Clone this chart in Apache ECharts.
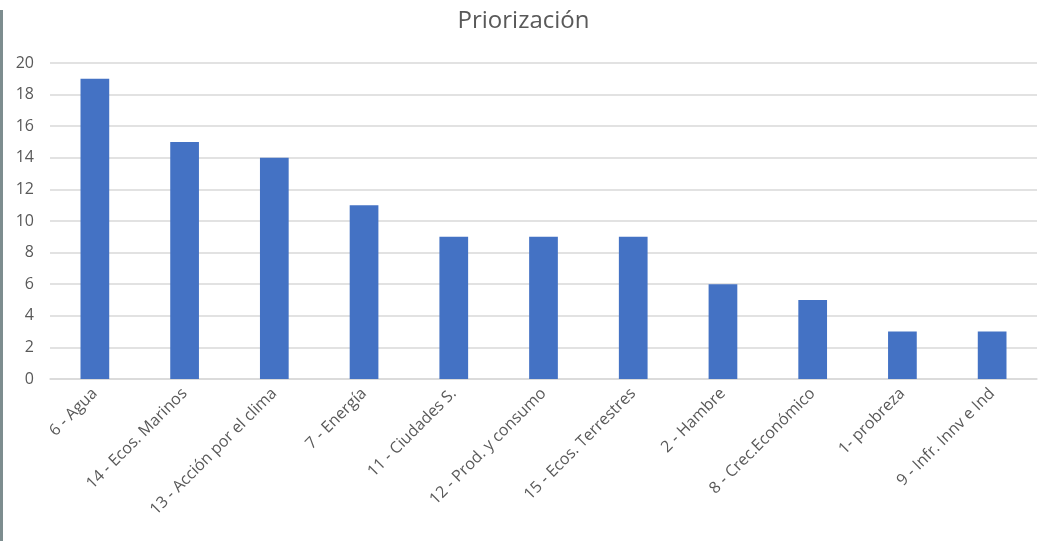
<!DOCTYPE html>
<html>
<head>
<meta charset="utf-8">
<script src="https://cdn.jsdelivr.net/npm/echarts@6/dist/echarts.min.js"></script>
<style>
  html, body { margin: 0; padding: 0; background: #fff; }
  #chart { width: 1047px; height: 541px; }
  #edge { position: absolute; left: 0; top: 10px; width: 3px; height: 531px; background: #7d8d8f; }
</style>
</head>
<body>
<div id="edge"></div>
<div id="chart"></div>
<script>
// Priorización - conteo por ODS
const CATEGORIES = [
  '6 - Agua', '14 - Ecos. Marinos', '13 - Acción por el clima', '7 - Energía',
  '11 - Ciudades S.', '12 - Prod. y consumo', '15 - Ecos. Terrestres',
  '2 - Hambre', '8 - Crec.Económico', '1- probreza', '9 - Infr. Innv e Ind'
];
const VALUES = [19, 15, 14, 11, 9, 9, 9, 6, 5, 3, 3];

const chart = echarts.init(document.getElementById('chart'));
chart.setOption({
  animation: false,
  title: {
    text: 'Priorización',
    left: 'center',
    top: 4,
    textStyle: { fontFamily: 'Open Sans', fontSize: 24, fontWeight: 'normal', color: '#595959' }
  },
  grid: { left: 50, right: 10, top: 63, bottom: 162 },
  xAxis: {
    type: 'category',
    data: CATEGORIES,
    axisLine: { lineStyle: { color: '#d9d9d9', width: 1.5 } },
    axisTick: { show: false },
    axisLabel: {
      rotate: 45,
      interval: 0,
      margin: 12,
      fontFamily: 'Open Sans',
      fontSize: 16,
      color: '#595959'
    }
  },
  yAxis: {
    type: 'value',
    min: 0,
    max: 20,
    interval: 2,
    axisLine: { show: false },
    axisTick: { show: false },
    splitLine: { lineStyle: { color: '#d9d9d9', width: 1.5 } },
    axisLabel: { fontFamily: 'Open Sans', fontSize: 16, color: '#595959', margin: 16 }
  },
  series: [{
    type: 'bar',
    data: VALUES,
    barWidth: '32%',
    itemStyle: { color: '#4472c4' }
  }]
});
</script>
</body>
</html>
